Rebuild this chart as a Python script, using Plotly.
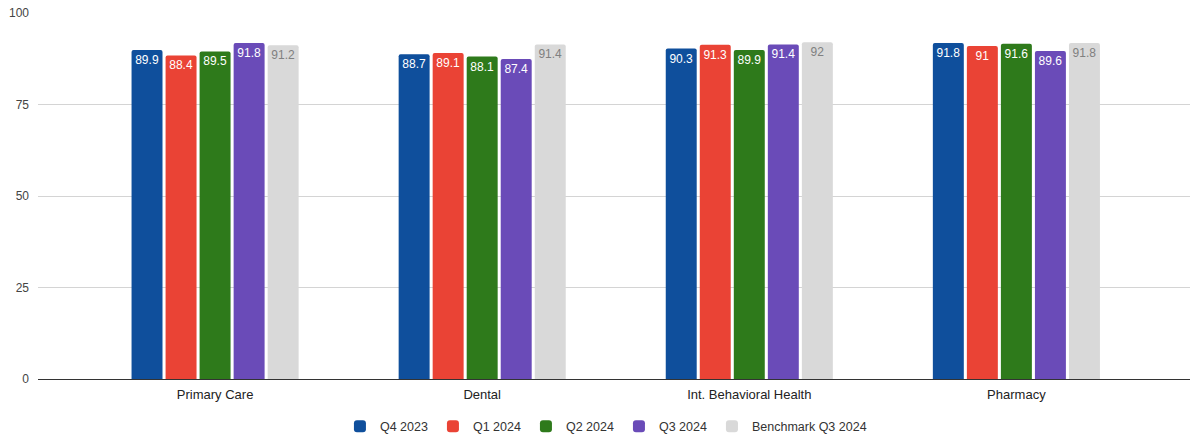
import plotly.graph_objects as go

categories = ["Primary Care", "Dental", "Int. Behavioral Health", "Pharmacy"]
series_names = ["Q4 2023", "Q1 2024", "Q2 2024", "Q3 2024", "Benchmark Q3 2024"]
q4_2023 = [89.9, 88.7, 90.3, 91.8]
q1_2024 = [88.4, 89.1, 91.3, 91]
q2_2024 = [89.5, 88.1, 89.9, 91.6]
q3_2024 = [91.8, 87.4, 91.4, 89.6]
benchmark_q3_2024 = [91.2, 91.4, 92, 91.8]
y_ticks = [0, 25, 50, 75, 100]

series_values = [q4_2023, q1_2024, q2_2024, q3_2024, benchmark_q3_2024]
colors = ["#0f4f9c", "#ea4335", "#2e7a1b", "#6a4bb8", "#d9d9d9"]
text_colors = ["#ffffff", "#ffffff", "#ffffff", "#ffffff", "#808080"]

FONT = "Arial, 'Liberation Sans', sans-serif"

fig = go.Figure()
for name, vals, col, tcol in zip(series_names, series_values, colors, text_colors):
    fig.add_trace(go.Bar(
        x=categories,
        y=vals,
        name=name,
        marker=dict(color=col, line=dict(width=0)),
        text=[f"{v:g}" for v in vals],
        textposition="inside",
        insidetextanchor="end",
        textangle=0,
        textfont=dict(color=tcol, size=12, family=FONT),
        cliponaxis=False,
    ))

fig.update_layout(
    width=1196,
    height=437,
    margin=dict(l=38, r=6, t=13, b=58, autoexpand=False),
    paper_bgcolor="white",
    plot_bgcolor="white",
    barmode="group",
    bargap=0.363,
    bargroupgap=0.09,
    barcornerradius=2,
    uniformtext=dict(minsize=8, mode="show"),
    font=dict(family=FONT, size=12, color="#444444"),
    showlegend=True,
    legend=dict(
        orientation="h",
        x=0.493,
        xanchor="center",
        yref="container",
        y=0.024,
        yanchor="middle",
        font=dict(size=12.5, color="#333333", family=FONT),
        itemwidth=30,
        traceorder="normal",
    ),
    xaxis=dict(
        type="category",
        range=[-0.663, 3.65],
        showgrid=False,
        showline=False,
        ticks="",
        ticklabelstandoff=6,
        tickfont=dict(size=13, color="#222222", family=FONT),
    ),
    yaxis=dict(
        range=[0, 100],
        tickvals=y_ticks,
        showgrid=True,
        gridcolor="#d4d4d4",
        gridwidth=1,
        zeroline=True,
        zerolinecolor="#333333",
        zerolinewidth=1,
        ticks="",
        ticklabelstandoff=8,
        tickfont=dict(size=12, color="#444444", family=FONT),
    ),
)

fig.write_html("out.html")
